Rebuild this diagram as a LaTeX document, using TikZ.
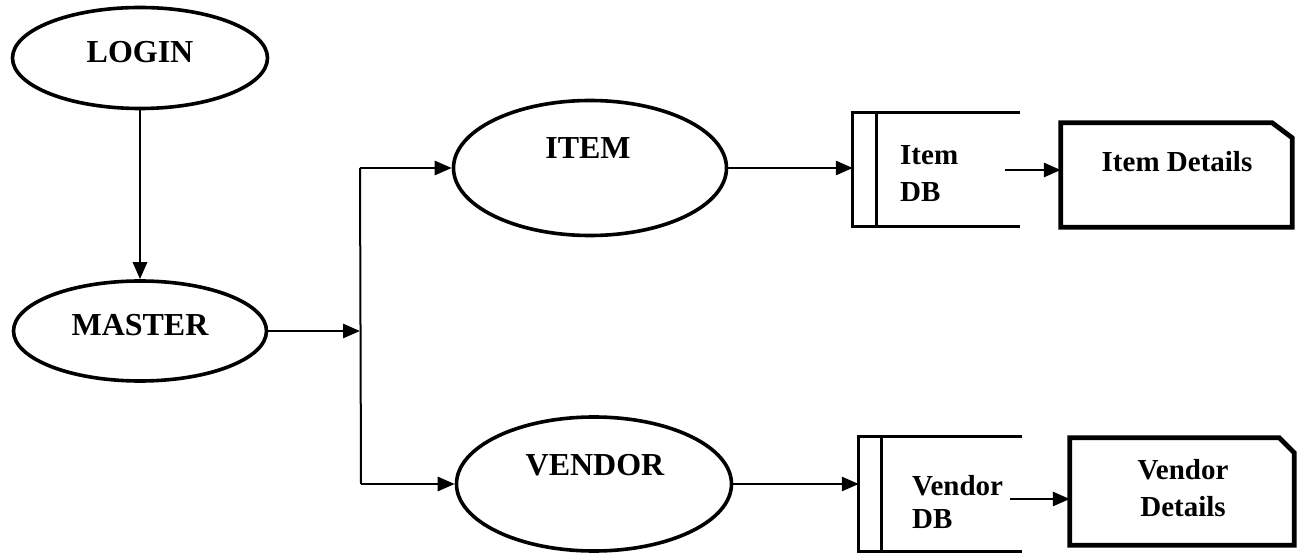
\documentclass[tikz,border=0pt]{standalone}
\usepackage{fontspec}
\setmainfont{Liberation Serif}
\usetikzlibrary{shapes.geometric,arrows.meta}

\begin{document}
\begin{tikzpicture}[x=1pt,y=-1pt,
    proc/.style={ellipse,draw,line width=3.6pt,inner sep=0pt},
    flow/.style={line width=2.8pt,-{Triangle[length=17pt,width=14pt]}},
    store/.style={line width=3.2pt},
    sheet/.style={line width=4.8pt},
    boxarea/.style={rectangle,inner sep=0pt},
    biglbl/.style={font=\bfseries\fontsize{32}{36}\selectfont,inner sep=0pt},
    lbl/.style={font=\bfseries\fontsize{29}{37}\selectfont,inner sep=0pt}]
  \useasboundingbox (0,0) rectangle (1304,553);

  % Processes
  \node[proc,minimum width=255pt,minimum height=101pt] (login) at (140,58) {};
  \node[proc,minimum width=253pt,minimum height=100pt] (master) at (140,331) {};
  \node[proc,minimum width=273pt,minimum height=135pt] (item) at (590,168) {};
  \node[proc,minimum width=275pt,minimum height=134pt] (vendor) at (594,484) {};

  \node[biglbl] (logintxt) at (140,52) {LOGIN};
  \node[biglbl] (mastertxt) at (140,325) {MASTER};
  \node[biglbl] (itemtxt) at (588,148) {ITEM};
  \node[biglbl] (vendortxt) at (595,465) {VENDOR};

  % Data stores
  \node[boxarea,minimum width=167pt,minimum height=113pt] (itemdb) at (936.5,169.5) {};
  \node[boxarea,minimum width=163pt,minimum height=114pt] (vendordb) at (940.5,494) {};
  \draw[store] (itemdb.north east) -- (itemdb.north west) -- (itemdb.south west) -- (itemdb.south east);
  \draw[store] ([xshift=24pt]itemdb.north west) -- ([xshift=24pt]itemdb.south west);
  \draw[store] (vendordb.north east) -- (vendordb.north west) -- (vendordb.south west) -- (vendordb.south east);
  \draw[store] ([xshift=23pt]vendordb.north west) -- ([xshift=23pt]vendordb.south west);

  \node[lbl,align=left,anchor=west] (itemdbtxt) at (900,173.5) {Item\\DB};
  \node[lbl,align=left,anchor=west] (vendordbtxt) at (912,501.5) {Vendor\\[-4pt]DB};

  % Output sheets
  \node[boxarea,minimum width=231pt,minimum height=104pt] (itemdet) at (1176.5,175) {};
  \node[boxarea,minimum width=224pt,minimum height=107pt] (vendordet) at (1182,491.5) {};
  \draw[sheet] (itemdet.south west) -- (itemdet.north west) -- ([xshift=-20pt]itemdet.north east)
    -- ([yshift=-15pt]itemdet.north east) -- (itemdet.south east) -- cycle;
  \draw[sheet] (vendordet.south west) -- (vendordet.north west) -- ([xshift=-15pt]vendordet.north east)
    -- ([yshift=-15pt]vendordet.north east) -- (vendordet.south east) -- cycle;

  \node[lbl] (itemdettxt) at (1177,162) {Item Details};
  \node[lbl,align=center] (vendordettxt) at (1183,488) {Vendor\\Details};

  % Flows
  \coordinate (fork) at (360,331);
  \coordinate (forktop) at (360,168);
  \coordinate (forkbot) at (361,484);
  \coordinate (itemout) at (1005,170);
  \coordinate (vendorout) at (1010,499);

  \draw[flow] (login.south) -- (master.north);
  \draw[flow] (master.east) -- (fork);
  \draw[line width=2pt] (forktop) -- (forkbot);
  \draw[flow] (forktop) -- (item.west);
  \draw[flow] (forkbot) -- (vendor.west);
  \draw[flow] (item.east) -- (item.east -| itemdb.west);
  \draw[flow] (vendor.east) -- (vendor.east -| vendordb.west);
  \draw[flow] (itemout) -- (itemout -| itemdet.west);
  \draw[flow] (vendorout) -- (vendorout -| vendordet.west);
\end{tikzpicture}
\end{document}
